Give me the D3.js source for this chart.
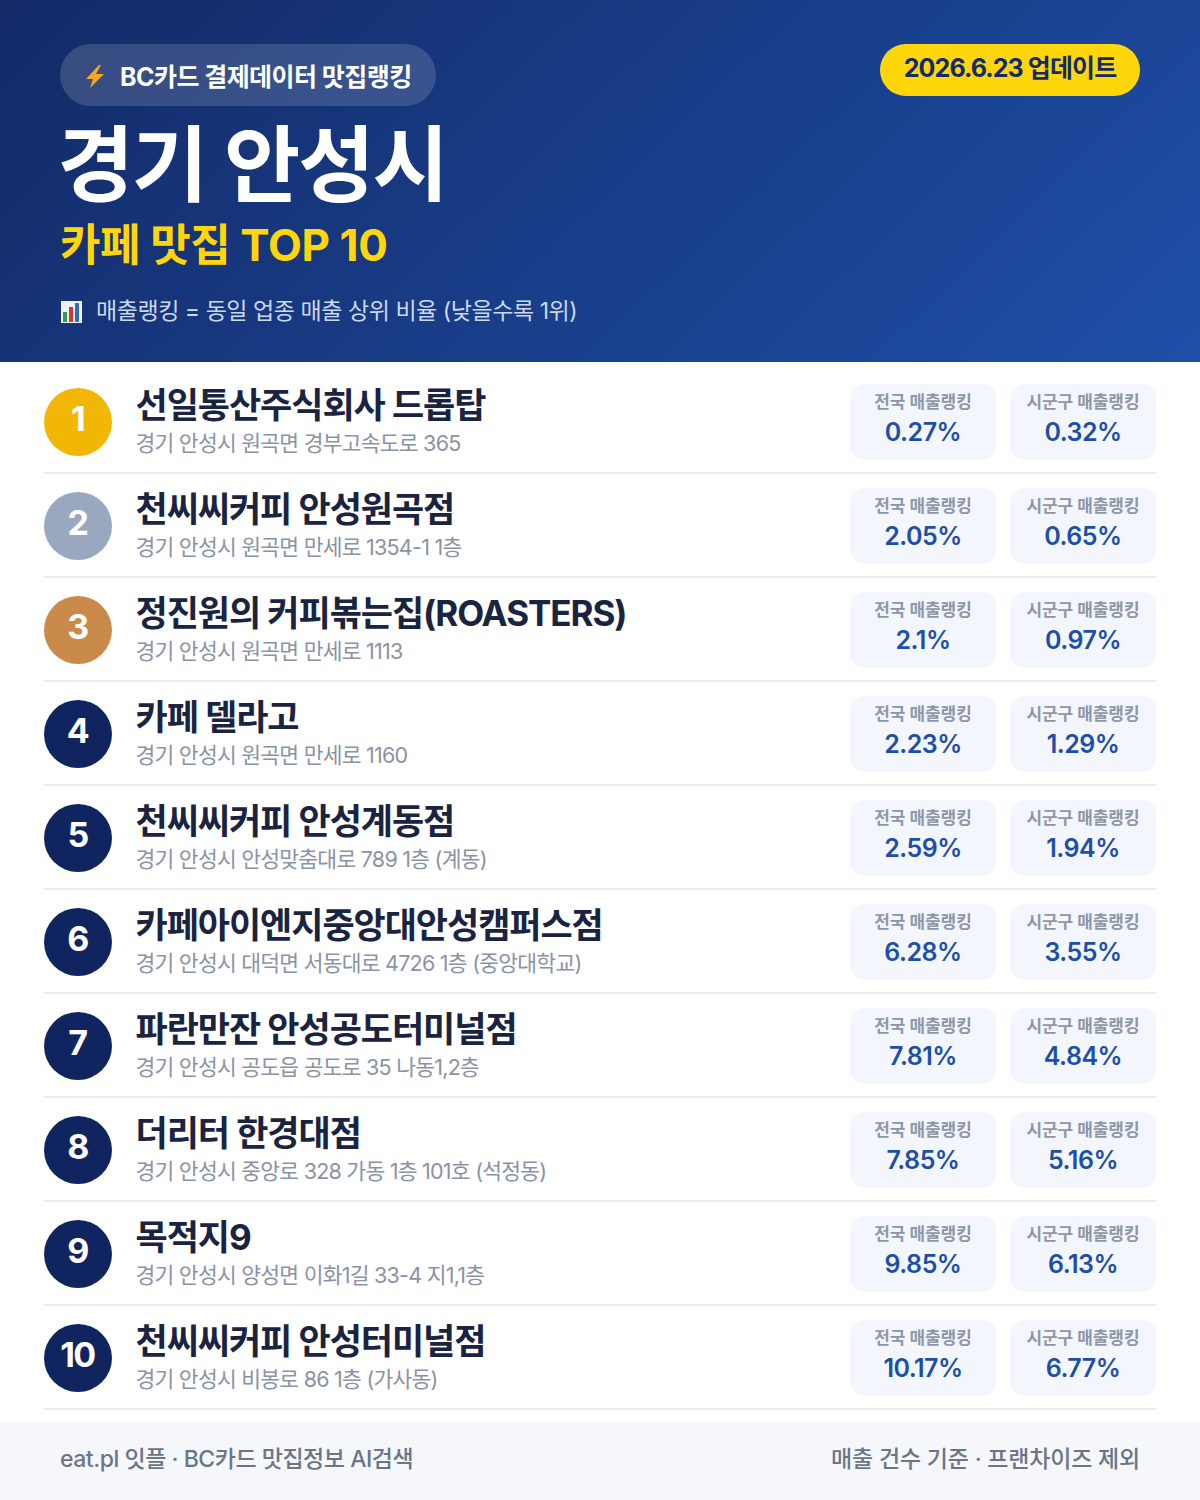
<!DOCTYPE html>
<html lang="ko">
<head>
<meta charset="utf-8">
<script src="https://cdn.jsdelivr.net/npm/d3@7"></script>
<style>
html, body { margin: 0; padding: 0; background: #fff; }
svg { display: block; }
text { font-family: Inter, "Noto Sans CJK KR", sans-serif; }
</style>
</head>
<body>
<div id="chart"></div>
<script>
const ranks = ["1", "2", "3", "4", "5", "6", "7", "8", "9", "10"]
const names = ["선일통산주식회사 드롭탑", "천씨씨커피 안성원곡점", "정진원의 커피볶는집(ROASTERS)", "카페 델라고", "천씨씨커피 안성계동점",
    "카페아이엔지중앙대안성캠퍼스점", "파란만잔 안성공도터미널점", "더리터 한경대점", "목적지9", "천씨씨커피 안성터미널점"]
const addresses = ["경기 안성시 원곡면 경부고속도로 365", "경기 안성시 원곡면 만세로 1354-1 1층", "경기 안성시 원곡면 만세로 1113", "경기 안성시 원곡면 만세로 1160",
    "경기 안성시 안성맞춤대로 789 1층 (계동)", "경기 안성시 대덕면 서동대로 4726 1층 (중앙대학교)", "경기 안성시 공도읍 공도로 35 나동1,2층",
    "경기 안성시 중앙로 328 가동 1층 101호 (석정동)", "경기 안성시 양성면 이화1길 33-4 지1,1층", "경기 안성시 비봉로 86 1층 (가사동)"]
const nationalRank = [0.27, 2.05, 2.1, 2.23, 2.59, 6.28, 7.81, 7.85, 9.85, 10.17]
const districtRank = [0.32, 0.65, 0.97, 1.29, 1.94, 3.55, 4.84, 5.16, 6.13, 6.77]
const badgeColors = ["#f2b705", "#9aa8bf", "#c98a4b"]

const width = 1200, height = 1500
const svg = d3.select("#chart").append("svg").attr("width", width).attr("height", height)

// header
const grad = svg.append("defs").append("linearGradient").attr("id", "head")
    .attr("gradientUnits", "userSpaceOnUse")
    .attr("x1", 219).attr("y1", -219).attr("x2", 981).attr("y2", 581)
grad.append("stop").attr("offset", 0).attr("stop-color", "#132a66")
grad.append("stop").attr("offset", 1).attr("stop-color", "#1e4fa8")

svg.append("rect").attr("width", width).attr("height", 362).attr("fill", "url(#head)")
svg.append("rect").attr("x", 60).attr("y", 44).attr("width", 376).attr("height", 62).attr("rx", 31)
    .attr("fill", "#fff").attr("fill-opacity", 0.15)

// emoji font is not installed, so the two small icons are paths
svg.append("path").attr("d", "M99 65 L86 79 L93 79 L90 88 L104 74 L96 74 L101 65 Z").attr("fill", "#f5a623")
svg.append("rect").attr("x", 61).attr("y", 301).attr("width", 21).attr("height", 22).attr("fill", "#f2f4f7")
svg.append("rect").attr("x", 63).attr("y", 312).attr("width", 4).attr("height", 10).attr("fill", "#2e9e4f")
svg.append("rect").attr("x", 69).attr("y", 307).attr("width", 4).attr("height", 15).attr("fill", "#d8352a")
svg.append("rect").attr("x", 75).attr("y", 303).attr("width", 4).attr("height", 19).attr("fill", "#2b6fc9")

function label(g, x, y, size, weight, fill, str, anchor, spacing) {
    return g.append("text").attr("x", x).attr("y", y)
        .attr("font-size", size).attr("font-weight", weight).attr("fill", fill)
        .attr("text-anchor", anchor || "start")
        .attr("letter-spacing", spacing || 0)
        .text(str)
}

label(svg, 120, 85.5, 25, 700, "#fff", "BC카드 결제데이터 맛집랭킹", "start", -0.55)
svg.append("rect").attr("x", 880).attr("y", 44).attr("width", 260).attr("height", 52).attr("rx", 26).attr("fill", "#ffd60a")
label(svg, 1010, 77, 25, 700, "#132a66", "2026.6.23 업데이트", "middle", -0.9)
label(svg, 57.5, 194.5, 83, 700, "#fff", "경기 안성시", "start", -2)
label(svg, 60, 260.5, 44, 700, "#ffd60a", "카페 맛집 TOP 10", "start", -0.4)
label(svg, 96, 319, 23, 400, "#ccd8f0", "매출랭킹 = 동일 업종 매출 상위 비율 (낮을수록 1위)", "start", -0.45)

// rows
const y = d3.scaleBand().domain(ranks).range([369, 1409])
const cardW = 146, cardH = 76

const row = svg.selectAll("g.row").data(ranks).join("g").attr("class", "row")
    .attr("transform", d => `translate(0, ${y(d)})`)

row.append("line").attr("x1", 44).attr("x2", 1156).attr("y1", y.bandwidth()).attr("y2", y.bandwidth())
    .attr("stroke", "#e9ecf0").attr("stroke-width", 2)
row.append("circle").attr("cx", 78).attr("cy", 53).attr("r", 34)
    .attr("fill", (d, i) => badgeColors[i] || "#10245f")
row.append("text").attr("x", 77.5).attr("y", 62).attr("text-anchor", "middle")
    .attr("font-size", 34).attr("font-weight", 700).attr("fill", "#fff").attr("letter-spacing", -1.5)
    .text(d => d)
row.append("text").attr("x", 135.5).attr("y", 48.5)
    .attr("font-size", 35).attr("font-weight", 700).attr("fill", "#1a2340").attr("letter-spacing", -1.05)
    .text((d, i) => names[i])
row.append("text").attr("x", 135.5).attr("y", 82)
    .attr("font-size", 21.5).attr("font-weight", 400).attr("fill", "#8a93a3").attr("letter-spacing", -0.75)
    .text((d, i) => addresses[i])

const cards = [
    {x: 850, title: "전국 매출랭킹", values: nationalRank},
    {x: 1010, title: "시군구 매출랭킹", values: districtRank}
]
cards.forEach(c => {
    row.append("rect").attr("x", c.x).attr("y", 15).attr("width", cardW).attr("height", cardH).attr("rx", 14)
        .attr("fill", "#f3f6fc")
    label(row, c.x + cardW / 2, 38.5, 17, 700, "#8f97a6", c.title, "middle", -0.05)
    row.append("text").attr("x", c.x + cardW / 2).attr("y", 72).attr("text-anchor", "middle")
        .attr("font-size", 25).attr("font-weight", 600).attr("fill", "#1e4fa8").attr("letter-spacing", -0.5)
        .text((d, i) => c.values[i] + "%")
})

// footer
svg.append("rect").attr("y", 1422).attr("width", width).attr("height", 78).attr("fill", "#f5f7fa")
label(svg, 60, 1467, 23, 500, "#6b7587", "eat.pl 잇플 · BC카드 맛집정보 AI검색", "start", -0.47)
label(svg, 1140, 1467, 23, 500, "#6b7587", "매출 건수 기준 · 프랜차이즈 제외", "end", -0.2)
</script>
</body>
</html>
